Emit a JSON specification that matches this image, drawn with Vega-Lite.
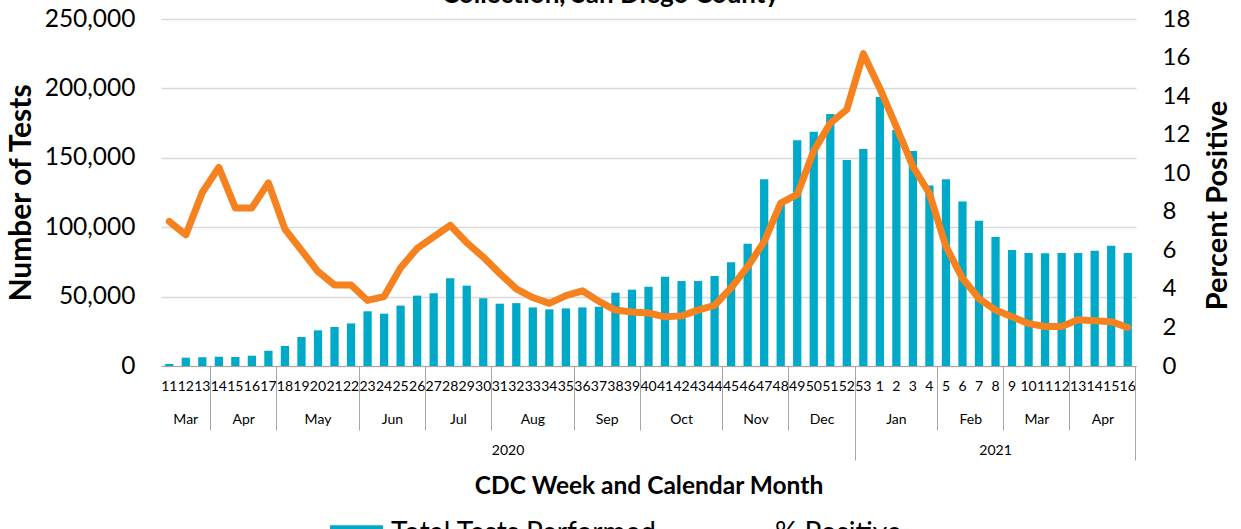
{
  "$schema": "https://vega.github.io/schema/vega-lite/v6.json",
  "width": 975,
  "height": 347,
  "autosize": {"type": "none"},
  "padding": {"left": 161, "top": 19, "right": 105, "bottom": 163},
  "background": "white",
  "config": {
    "view": {"stroke": null},
    "font": "Lato",
    "axis": {"labelFont": "Lato", "titleFont": "Lato", "labelColor": "#000", "titleColor": "#000"}
  },
  "title": {
    "text": "Collection, San Diego County",
    "font": "Lato",
    "fontSize": 26,
    "fontWeight": "bold",
    "color": "#000",
    "anchor": "middle",
    "frame": "group",
    "dx": -38,
    "offset": -23,
    "baseline": "alphabetic"
  },
  "data": {
    "values": [
      {"key": "2020-11", "year": 2020, "month": "Mar", "tests": 1500, "pct": 7.5},
      {"key": "2020-12", "year": 2020, "month": "Mar", "tests": 6000, "pct": 6.8},
      {"key": "2020-13", "year": 2020, "month": "Mar", "tests": 6300, "pct": 9.0},
      {"key": "2020-14", "year": 2020, "month": "Apr", "tests": 6700, "pct": 10.3},
      {"key": "2020-15", "year": 2020, "month": "Apr", "tests": 6500, "pct": 8.2},
      {"key": "2020-16", "year": 2020, "month": "Apr", "tests": 7400, "pct": 8.2},
      {"key": "2020-17", "year": 2020, "month": "Apr", "tests": 11000, "pct": 9.5},
      {"key": "2020-18", "year": 2020, "month": "May", "tests": 14400, "pct": 7.1},
      {"key": "2020-19", "year": 2020, "month": "May", "tests": 20900, "pct": 6.0},
      {"key": "2020-20", "year": 2020, "month": "May", "tests": 25700, "pct": 4.9},
      {"key": "2020-21", "year": 2020, "month": "May", "tests": 28100, "pct": 4.2},
      {"key": "2020-22", "year": 2020, "month": "May", "tests": 30700, "pct": 4.2},
      {"key": "2020-23", "year": 2020, "month": "Jun", "tests": 39400, "pct": 3.4},
      {"key": "2020-24", "year": 2020, "month": "Jun", "tests": 37700, "pct": 3.6},
      {"key": "2020-25", "year": 2020, "month": "Jun", "tests": 43500, "pct": 5.1},
      {"key": "2020-26", "year": 2020, "month": "Jun", "tests": 50700, "pct": 6.1},
      {"key": "2020-27", "year": 2020, "month": "Jul", "tests": 52400, "pct": 6.7},
      {"key": "2020-28", "year": 2020, "month": "Jul", "tests": 63200, "pct": 7.3},
      {"key": "2020-29", "year": 2020, "month": "Jul", "tests": 57900, "pct": 6.4},
      {"key": "2020-30", "year": 2020, "month": "Jul", "tests": 48800, "pct": 5.65},
      {"key": "2020-31", "year": 2020, "month": "Aug", "tests": 44900, "pct": 4.8},
      {"key": "2020-32", "year": 2020, "month": "Aug", "tests": 45300, "pct": 4.0},
      {"key": "2020-33", "year": 2020, "month": "Aug", "tests": 42200, "pct": 3.55},
      {"key": "2020-34", "year": 2020, "month": "Aug", "tests": 40800, "pct": 3.25},
      {"key": "2020-35", "year": 2020, "month": "Aug", "tests": 41500, "pct": 3.65},
      {"key": "2020-36", "year": 2020, "month": "Sep", "tests": 42200, "pct": 3.9},
      {"key": "2020-37", "year": 2020, "month": "Sep", "tests": 42700, "pct": 3.35},
      {"key": "2020-38", "year": 2020, "month": "Sep", "tests": 52800, "pct": 2.9},
      {"key": "2020-39", "year": 2020, "month": "Sep", "tests": 55000, "pct": 2.8},
      {"key": "2020-40", "year": 2020, "month": "Oct", "tests": 57100, "pct": 2.75},
      {"key": "2020-41", "year": 2020, "month": "Oct", "tests": 64300, "pct": 2.55},
      {"key": "2020-42", "year": 2020, "month": "Oct", "tests": 61200, "pct": 2.6},
      {"key": "2020-43", "year": 2020, "month": "Oct", "tests": 61200, "pct": 2.9},
      {"key": "2020-44", "year": 2020, "month": "Oct", "tests": 64800, "pct": 3.15},
      {"key": "2020-45", "year": 2020, "month": "Nov", "tests": 74700, "pct": 4.05},
      {"key": "2020-46", "year": 2020, "month": "Nov", "tests": 88100, "pct": 5.15},
      {"key": "2020-47", "year": 2020, "month": "Nov", "tests": 134500, "pct": 6.45},
      {"key": "2020-48", "year": 2020, "month": "Nov", "tests": 116000, "pct": 8.45},
      {"key": "2020-49", "year": 2020, "month": "Dec", "tests": 162600, "pct": 8.9},
      {"key": "2020-50", "year": 2020, "month": "Dec", "tests": 168800, "pct": 11.15},
      {"key": "2020-51", "year": 2020, "month": "Dec", "tests": 181600, "pct": 12.6},
      {"key": "2020-52", "year": 2020, "month": "Dec", "tests": 148400, "pct": 13.3},
      {"key": "2021-53", "year": 2021, "month": "Jan", "tests": 156300, "pct": 16.2},
      {"key": "2021-1", "year": 2021, "month": "Jan", "tests": 193800, "pct": 14.4},
      {"key": "2021-2", "year": 2021, "month": "Jan", "tests": 170000, "pct": 12.4},
      {"key": "2021-3", "year": 2021, "month": "Jan", "tests": 154900, "pct": 10.35},
      {"key": "2021-4", "year": 2021, "month": "Jan", "tests": 130000, "pct": 8.95},
      {"key": "2021-5", "year": 2021, "month": "Feb", "tests": 134600, "pct": 6.2},
      {"key": "2021-6", "year": 2021, "month": "Feb", "tests": 118600, "pct": 4.55},
      {"key": "2021-7", "year": 2021, "month": "Feb", "tests": 104700, "pct": 3.5},
      {"key": "2021-8", "year": 2021, "month": "Feb", "tests": 92900, "pct": 2.9},
      {"key": "2021-9", "year": 2021, "month": "Mar", "tests": 83600, "pct": 2.55},
      {"key": "2021-10", "year": 2021, "month": "Mar", "tests": 81400, "pct": 2.2},
      {"key": "2021-11", "year": 2021, "month": "Mar", "tests": 81200, "pct": 2.05},
      {"key": "2021-12", "year": 2021, "month": "Mar", "tests": 81400, "pct": 2.05},
      {"key": "2021-13", "year": 2021, "month": "Apr", "tests": 81400, "pct": 2.4},
      {"key": "2021-14", "year": 2021, "month": "Apr", "tests": 83100, "pct": 2.35},
      {"key": "2021-15", "year": 2021, "month": "Apr", "tests": 86700, "pct": 2.3},
      {"key": "2021-16", "year": 2021, "month": "Apr", "tests": 81400, "pct": 2.0}
    ]
  },
  "layer": [
    {
      "mark": {"type": "bar", "width": {"band": 0.5}},
      "encoding": {
        "x": {
          "field": "key", "type": "nominal", "sort": null,
          "scale": {"paddingInner": 0, "paddingOuter": 0},
          "axis": {
            "orient": "bottom",
            "labelExpr": "split(datum.value, '-')[1]",
            "labelAngle": 0, "labelFontSize": 14, "labelPadding": 13,
            "labelOverlap": false, "labelBound": false, "labelFlush": false,
            "ticks": false, "tickSize": 0, "domain": true, "domainColor": "#a6a6a6", "domainWidth": 1,
            "grid": false, "title": null
          }
        },
        "y": {
          "field": "tests", "type": "quantitative",
          "scale": {"domain": [0, 250000], "nice": false},
          "axis": {
            "orient": "left", "values": [0, 50000, 100000, 150000, 200000, 250000], "format": ",.0f",
            "labelFontSize": 24.5, "labelPadding": 26, "ticks": false, "domain": false,
            "grid": true, "gridColor": "#d9d9d9", "gridWidth": 1.5,
            "title": "Number of Tests", "titleFontSize": 30, "titleFontWeight": "bold", "titlePadding": 8
          }
        },
        "color": {
          "datum": "Total Tests Performed", "type": "nominal",
          "scale": {"domain": ["Total Tests Performed", "% Positive"], "range": ["#00A9C8", "#F5821F"]},
          "legend": {
            "orient": "none", "legendX": 169, "legendY": 488, "direction": "horizontal",
            "title": null, "padding": 0, "labelFont": "Lato", "labelFontSize": 28, "labelColor": "#000",
            "labelLimit": 500, "labelOffset": 8, "columnPadding": 57,
            "symbolSize": 2809, "symbolStrokeWidth": 0, "symbolOpacity": 1,
            "encode": {
              "symbols": {
                "update": {
                  "shape": {"signal": "datum.label === '% Positive' ? 'M-1,-0.15H1V0.15H-1Z' : 'M-1,-0.32H1V0.32H-1Z'"},
                  "fill": {"scale": "color", "field": "value"},
                  "strokeWidth": {"value": 0}
                }
              }
            }
          }
        }
      }
    },
    {
      "mark": {"type": "line", "strokeWidth": 7, "strokeCap": "round", "strokeJoin": "round"},
      "encoding": {
        "x": {"field": "key", "type": "nominal", "sort": null, "axis": null},
        "y": {
          "field": "pct", "type": "quantitative",
          "scale": {"domain": [0, 18], "nice": false},
          "axis": {
            "orient": "right", "values": [0, 2, 4, 6, 8, 10, 12, 14, 16, 18],
            "labelFontSize": 24, "labelPadding": 26, "ticks": false, "domain": false, "grid": false,
            "title": "Percent Positive", "titleFontSize": 29, "titleFontWeight": "bold",
            "titleAngle": 270, "titleBaseline": "top", "titlePadding": 14, "titleY": 186
          }
        },
        "color": {"datum": "% Positive", "type": "nominal"}
      }
    },
    {
      "mark": {"type": "tick", "opacity": 0},
      "encoding": {
        "x": {
          "field": "key", "type": "nominal", "sort": null,
          "axis": {
            "orient": "bottom",
            "values": ["2020-14", "2020-18", "2020-23", "2020-27", "2020-31", "2020-36", "2020-40", "2020-45", "2020-49", "2021-5", "2021-9", "2021-13"],
            "bandPosition": 0, "labels": false, "domain": false, "grid": false, "title": null,
            "ticks": true, "tickSize": 64, "tickColor": "#a6a6a6", "tickWidth": 1
          }
        }
      }
    },
    {
      "mark": {"type": "tick", "opacity": 0},
      "encoding": {
        "x": {
          "field": "key", "type": "nominal", "sort": null,
          "axis": {
            "orient": "bottom",
            "values": ["2020-11", "2021-53"],
            "bandPosition": 0, "labels": false, "domain": false, "grid": false,
            "ticks": true, "tickSize": 94, "tickColor": "#a6a6a6", "tickWidth": 1,
            "title": "CDC Week and Calendar Month", "titleFontSize": 24.5, "titleFontWeight": "bold", "titlePadding": 14
          }
        }
      }
    },
    {
      "mark": {"type": "tick", "opacity": 0},
      "encoding": {
        "x": {
          "field": "key", "type": "nominal", "sort": null,
          "axis": {
            "orient": "bottom",
            "values": ["2021-16"],
            "bandPosition": 1, "labels": false, "domain": false, "grid": false, "title": null,
            "ticks": true, "tickSize": 94, "tickColor": "#a6a6a6", "tickWidth": 1
          }
        }
      }
    },
    {
      "mark": {"type": "tick", "opacity": 0},
      "encoding": {
        "x": {
          "field": "key", "type": "nominal", "sort": null,
          "axis": {
            "orient": "bottom",
            "values": ["2020-12", "2020-20", "2020-33", "2020-42", "2021-2"],
            "labelExpr": "['Mar','May','Aug','Oct','Jan'][indexof(['2020-12','2020-20','2020-33','2020-42','2021-2'], datum.value)]",
            "bandPosition": 0.5, "labelAngle": 0, "labelFontSize": 14, "labelPadding": 46,
            "labelOverlap": false, "labelBound": false, "labelFlush": false,
            "ticks": false, "tickSize": 0, "domain": false, "grid": false, "title": null
          }
        }
      }
    },
    {
      "mark": {"type": "tick", "opacity": 0},
      "encoding": {
        "x": {
          "field": "key", "type": "nominal", "sort": null,
          "axis": {
            "orient": "bottom",
            "values": ["2020-16", "2020-25", "2020-29", "2020-38", "2020-47", "2020-51", "2021-7", "2021-11", "2021-15"],
            "labelExpr": "['Apr','Jun','Jul','Sep','Nov','Dec','Feb','Mar','Apr'][indexof(['2020-16','2020-25','2020-29','2020-38','2020-47','2020-51','2021-7','2021-11','2021-15'], datum.value)]",
            "bandPosition": 0.5, "labelOffset": -8.26, "labelAngle": 0, "labelFontSize": 14, "labelPadding": 46,
            "labelOverlap": false, "labelBound": false, "labelFlush": false,
            "ticks": false, "tickSize": 0, "domain": false, "grid": false, "title": null
          }
        }
      }
    },
    {
      "mark": {"type": "tick", "opacity": 0},
      "encoding": {
        "x": {
          "field": "key", "type": "nominal", "sort": null,
          "axis": {
            "orient": "bottom",
            "values": ["2020-32"], "labelExpr": "'2020'",
            "bandPosition": 0.5, "labelOffset": -8.26, "labelAngle": 0, "labelFontSize": 14, "labelPadding": 77,
            "labelOverlap": false, "labelBound": false, "labelFlush": false,
            "ticks": false, "tickSize": 0, "domain": false, "grid": false, "title": null
          }
        }
      }
    },
    {
      "mark": {"type": "tick", "opacity": 0},
      "encoding": {
        "x": {
          "field": "key", "type": "nominal", "sort": null,
          "axis": {
            "orient": "bottom",
            "values": ["2021-8"], "labelExpr": "'2021'",
            "bandPosition": 0.5, "labelAngle": 0, "labelFontSize": 14, "labelPadding": 77,
            "labelOverlap": false, "labelBound": false, "labelFlush": false,
            "ticks": false, "tickSize": 0, "domain": false, "grid": false, "title": null
          }
        }
      }
    }
  ],
  "resolve": {"scale": {"y": "independent"}, "axis": {"x": "independent"}}
}
